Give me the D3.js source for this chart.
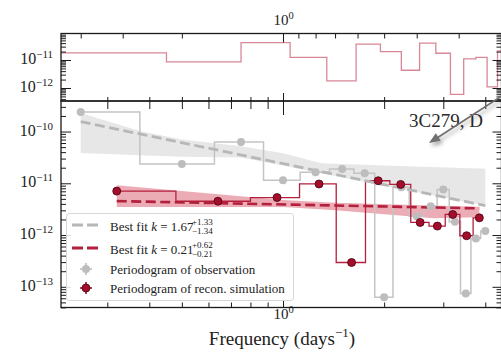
<!DOCTYPE html>
<html>
<head>
<meta charset="utf-8">
<script src="https://cdn.jsdelivr.net/npm/d3@7"></script>
<style>
  html, body { margin: 0; padding: 0; background: #fff; }
  svg { display: block; font-family: "Liberation Serif", "Times New Roman", serif; }
</style>
</head>
<body>
<svg id="chart" width="501" height="353"></svg>
<script>
// ---- periodogram of the observed light curve (days^-1, power) ----
const obsFreq  = [0.25, 0.5, 0.75, 1.0, 1.25, 1.5, 1.75, 2.0, 2.25, 2.5, 2.75, 3.0, 3.25, 3.5, 3.75, 4.0];
const obsPower = [2.38e-10, 2.35e-11, 6.27e-11, 1.15e-11, 1.63e-11, 1.88e-11, 1.57e-11, 6.3e-14,
                  8.4e-12, 2.32e-12, 3.62e-12, 7.6e-12, 1.8e-12, 7.4e-14, 8.6e-13, 1.2e-12];

// ---- periodogram of the reconstructed simulation ----
const simFreq  = [0.32, 0.64, 0.96, 1.28, 1.6, 1.92, 2.24, 2.56, 2.88, 3.2, 3.52, 3.84];
const simPower = [7.06e-12, 4.5e-12, 5.3e-12, 9.7e-12, 2.95e-13, 1.12e-11, 9.5e-12, 1.75e-12,
                  1.49e-12, 2.5e-12, 9.7e-13, 2.15e-12];

// ---- upper panel: residual periodogram ----
const topFreq  = [0.3, 0.6, 0.9, 1.2, 1.5, 1.8, 2.1, 2.4, 2.7, 3.0, 3.3, 3.6, 3.9, 4.2, 4.5];
const topPower = [1.8e-11, 8.5e-12, 4.2e-11, 1.25e-11, 1.8e-12, 3.7e-11, 2.0e-11, 4.3e-12,
                  4.0e-11, 1.74e-11, 5.9e-13, 1.1e-11, 1.25e-11, 1.1e-12, 2.1e-11];

// ---- best-fit power laws and their uncertainty bands ----
const obsFitFreq  = [0.25, 4.0];
const obsFitPower = [1.55e-10, 3.7e-12];
const obsBandFreq = [0.25, 0.375, 0.5, 0.75, 1.0, 1.3, 2.0, 4.0];
const obsBandHigh = [2.28e-10, 1.02e-10, 7.0e-11, 5.2e-11, 3.8e-11, 2.45e-11, 2.2e-11, 1.92e-11];
const obsBandLow  = [3.84e-11, 3.5e-11, 3.25e-11, 3.15e-11, 2.2e-11, 1.57e-11, 9.0e-12, 3.7e-12];

const simFitFreq  = [0.32, 3.84];
const simFitPower = [4.53e-12, 3.27e-12];
const simBandFreq = [0.32, 1.0, 1.43, 2.8, 3.84];
const simBandHigh = [9.2e-12, 4.73e-12, 4.2e-12, 3.74e-12, 3.54e-12];
const simBandLow  = [3.47e-12, 3.47e-12, 3.03e-12, 2.12e-12, 2.2e-12];

// ---- axes ----
const xMajorTicks  = [1];
const xMinorTicks  = [0.3, 0.4, 0.5, 0.6, 0.7, 0.8, 0.9, 2, 3, 4];
const periodMajor  = [1];
const periodMinor  = [4, 3, 2, 0.9, 0.8, 0.7, 0.6, 0.5, 0.4, 0.3];
const legendLabels = [
  { k: "1.67", up: "+1.33", dn: "\u22121.34" },
  { k: "0.21", up: "+0.62", dn: "\u22120.21" }
];
const sourceName = "3C279, D";

// ---- layout ----
const plotLeft = 61, plotRight = 501.5;
const topTop = 33.5, topBottom = 101;
const mainTop = 101, mainBottom = 307.5;

const grayStep = "#c4c4c4", grayDot = "#bdbdbd", grayDash = "#b7b7b7", grayBand = "#e4e4e4";
const redStep = "#b41f3c", redDot = "#a30f2b", redEdge = "#4a0010", redBand = "#c8102e", topLine = "#d98796";

const svg = d3.select("#chart");

const x = d3.scaleLog().domain([0.2184, 4.470]).range([plotLeft, plotRight]);
const yTop = d3.scaleLog().domain([Math.pow(10, -12.464), Math.pow(10, -10.054)]).range([topBottom, topTop]);
const yMain = d3.scaleLog().domain([Math.pow(10, -13.40), Math.pow(10, -9.41)]).range([mainBottom, mainTop]);

const defs = svg.append("defs");
defs.append("clipPath").attr("id", "clipTop").append("rect")
  .attr("x", plotLeft).attr("y", topTop).attr("width", plotRight - plotLeft).attr("height", topBottom - topTop);
defs.append("clipPath").attr("id", "clipMain").append("rect")
  .attr("x", plotLeft).attr("y", mainTop).attr("width", plotRight - plotLeft).attr("height", mainBottom - mainTop);
const shadow = defs.append("filter").attr("id", "shadow").attr("x", "-50%").attr("y", "-50%").attr("width", "200%").attr("height", "200%");
shadow.append("feDropShadow").attr("dx", 2).attr("dy", 3).attr("stdDeviation", 2)
  .attr("flood-color", "#000").attr("flood-opacity", 0.35);

// mid-step outline: each value spans half way to its neighbours (in linear frequency)
function midSteps(freqs, vals, padEnds) {
  const pts = [];
  const n = freqs.length;
  for (let i = 0; i < n; i++) {
    const left = i === 0 ? (padEnds ? freqs[0] - (freqs[1] - freqs[0]) / 2 : freqs[0]) : (freqs[i - 1] + freqs[i]) / 2;
    const right = i === n - 1 ? (padEnds ? freqs[i] + (freqs[i] - freqs[i - 1]) / 2 : freqs[i]) : (freqs[i] + freqs[i + 1]) / 2;
    pts.push([left, vals[i]], [right, vals[i]]);
  }
  return pts;
}

// ================= upper panel =================
const gTop = svg.append("g").attr("clip-path", "url(#clipTop)");
gTop.append("path")
  .attr("d", d3.line().x(d => x(Math.max(d[0], 0.1))).y(d => yTop(d[1]))(midSteps(topFreq, topPower, true)))
  .attr("fill", "none").attr("stroke", topLine).attr("stroke-width", 1.3);

// ================= main panel =================
const gMain = svg.append("g").attr("clip-path", "url(#clipMain)");
const bandArea = (scale) => d3.area().x(d => x(d.f)).y0(d => scale(d.lo)).y1(d => scale(d.hi));

gMain.append("path")
  .attr("d", bandArea(yMain)(obsBandFreq.map((f, i) => ({ f, lo: obsBandLow[i], hi: obsBandHigh[i] }))))
  .attr("fill", grayBand).attr("opacity", 0.9);
gMain.append("path")
  .attr("d", bandArea(yMain)(simBandFreq.map((f, i) => ({ f, lo: simBandLow[i], hi: simBandHigh[i] }))))
  .attr("fill", redBand).attr("opacity", 0.35);

const stepLine = d3.line().x(d => x(d[0])).y(d => yMain(d[1]));
gMain.append("path").attr("d", stepLine(midSteps(obsFreq, obsPower, false)))
  .attr("fill", "none").attr("stroke", grayStep).attr("stroke-width", 1.5);
gMain.append("path").attr("d", stepLine(midSteps(simFreq, simPower, false)))
  .attr("fill", "none").attr("stroke", redStep).attr("stroke-width", 1.3);

const fitLine = d3.line().x(d => x(d[0])).y(d => yMain(d[1]));
gMain.append("path").attr("d", fitLine(obsFitFreq.map((f, i) => [f, obsFitPower[i]])))
  .attr("fill", "none").attr("stroke", grayDash).attr("stroke-width", 2.8).attr("stroke-dasharray", "10,4.5");
gMain.append("path").attr("d", fitLine(simFitFreq.map((f, i) => [f, simFitPower[i]])))
  .attr("fill", "none").attr("stroke", redStep).attr("stroke-width", 2.6).attr("stroke-dasharray", "10,4.5");

gMain.selectAll("circle.obs").data(obsFreq.map((f, i) => [f, obsPower[i]])).join("circle")
  .attr("class", "obs").attr("cx", d => x(d[0])).attr("cy", d => yMain(d[1])).attr("r", 4)
  .attr("fill", grayDot);
gMain.selectAll("circle.sim").data(simFreq.map((f, i) => [f, simPower[i]])).join("circle")
  .attr("class", "sim").attr("cx", d => x(d[0])).attr("cy", d => yMain(d[1])).attr("r", 4)
  .attr("fill", redDot).attr("stroke", redEdge).attr("stroke-width", 0.8);

// ================= axes =================
const tickColor = "#1a1a1a";
function styleAxis(g) {
  g.select(".domain").remove();
  g.selectAll(".tick line").attr("stroke", tickColor).attr("stroke-width", 1);
}
function powerLabel(textSel, exp, big, small) {
  textSel.text(null);
  textSel.append("tspan").attr("font-size", big).text("10");
  textSel.append("tspan").attr("font-size", small).attr("dy", "-0.55em").text(exp);
}

// bottom frequency axis
svg.append("g").attr("transform", `translate(0,${mainBottom})`)
  .call(d3.axisBottom(x).tickValues(xMinorTicks).tickSize(-5).tickFormat("")).call(styleAxis);
const xb = svg.append("g").attr("transform", `translate(0,${mainBottom})`)
  .call(d3.axisBottom(x).tickValues(xMajorTicks).tickSize(-8).tickPadding(4).tickFormat("")).call(styleAxis);
xb.selectAll(".tick text").attr("fill", "#222").attr("font-family", "Liberation Serif")
  .each(function () { powerLabel(d3.select(this), "0", 15, 10.5); });

// shared boundary: ticks up into upper panel and down into main panel
svg.append("g").attr("transform", `translate(0,${topBottom})`)
  .call(d3.axisBottom(x).tickValues(xMinorTicks).tickSize(-4).tickFormat("")).call(styleAxis);
svg.append("g").attr("transform", `translate(0,${topBottom})`)
  .call(d3.axisBottom(x).tickValues(xMajorTicks).tickSize(-8).tickFormat("")).call(styleAxis);
svg.append("g").attr("transform", `translate(0,${mainTop})`)
  .call(d3.axisTop(x).tickValues(xMinorTicks).tickSize(-8).tickFormat("")).call(styleAxis);
svg.append("g").attr("transform", `translate(0,${mainTop})`)
  .call(d3.axisTop(x).tickValues(xMajorTicks).tickSize(-14).tickFormat("")).call(styleAxis);

// period axis on top of the upper panel
svg.append("g").attr("transform", `translate(0,${topTop})`)
  .call(d3.axisTop(x).tickValues(periodMinor.map(p => 1 / p)).tickSize(-5).tickFormat("")).call(styleAxis);
const xt = svg.append("g").attr("transform", `translate(0,${topTop})`)
  .call(d3.axisTop(x).tickValues(periodMajor.map(p => 1 / p)).tickSize(-9).tickPadding(9).tickFormat("")).call(styleAxis);
xt.selectAll(".tick text").attr("fill", "#222").attr("font-family", "Liberation Serif")
  .each(function () { powerLabel(d3.select(this), "0", 15, 10.5); });

// log y axes (left labelled, right unlabelled)
function yAxes(scale, labelled) {
  const all = scale.ticks();
  const majors = all.filter(v => Math.abs(Math.log10(v) - Math.round(Math.log10(v))) < 1e-6);
  const minors = all.filter(v => majors.indexOf(v) < 0);
  svg.append("g").attr("transform", `translate(${plotLeft},0)`)
    .call(d3.axisLeft(scale).tickValues(minors).tickSize(-5).tickFormat("")).call(styleAxis);
  const gl = svg.append("g").attr("transform", `translate(${plotLeft},0)`)
    .call(d3.axisLeft(scale).tickValues(majors).tickSize(-10).tickPadding(8).tickFormat("")).call(styleAxis);
  gl.selectAll(".tick text").attr("fill", "#222").attr("font-family", "Liberation Serif").attr("dy", "0.36em")
    .each(function (d) { powerLabel(d3.select(this), "\u2212" + Math.abs(Math.round(Math.log10(d))), 16, 11); });
  svg.append("g").attr("transform", `translate(${plotRight},0)`)
    .call(d3.axisRight(scale).tickValues(minors).tickSize(-5).tickFormat("")).call(styleAxis);
  svg.append("g").attr("transform", `translate(${plotRight},0)`)
    .call(d3.axisRight(scale).tickValues(majors).tickSize(-9).tickFormat("")).call(styleAxis);
}
yAxes(yTop);
yAxes(yMain);

// frames
const frame = svg.append("g").attr("fill", "none").attr("stroke", tickColor).attr("stroke-width", 1.3);
frame.append("rect").attr("x", plotLeft).attr("y", topTop).attr("width", plotRight - plotLeft).attr("height", topBottom - topTop);
frame.append("rect").attr("x", plotLeft).attr("y", mainTop).attr("width", plotRight - plotLeft).attr("height", mainBottom - mainTop);

// ================= legend =================
const lg = svg.append("g");
lg.append("rect").attr("x", 66.5).attr("y", 213.5).attr("width", 227).attr("height", 87).attr("rx", 3)
  .attr("fill", "#fff").attr("fill-opacity", 0.85).attr("stroke", "#d6d6d6").attr("stroke-width", 1);
const rowY = [225, 248, 269, 288];
[grayDash, redStep].forEach((c, i) => {
  lg.append("line").attr("x1", 72).attr("x2", 98).attr("y1", rowY[i]).attr("y2", rowY[i])
    .attr("stroke", c).attr("stroke-width", 2.8).attr("stroke-dasharray", "11,4");
  const t = lg.append("text").attr("x", 110).attr("y", rowY[i] + 5.5).attr("font-size", 13).attr("fill", "#222");
  t.append("tspan").text("Best fit ");
  t.append("tspan").attr("font-style", "italic").text("k");
  t.append("tspan").text(" = " + legendLabels[i].k);
  const tx = 110 + 81;
  lg.append("text").attr("x", tx + 1).attr("y", rowY[i] - 0.5).attr("font-size", 9).attr("fill", "#222").text(legendLabels[i].up);
  lg.append("text").attr("x", tx + 1).attr("y", rowY[i] + 9).attr("font-size", 9).attr("fill", "#222").text(legendLabels[i].dn);
});
[[grayDot, "none", "Periodogram of observation"], [redDot, redEdge, "Periodogram of recon. simulation"]].forEach((m, j) => {
  const cy = rowY[2 + j];
  lg.append("line").attr("x1", 86).attr("x2", 86).attr("y1", cy - 6).attr("y2", cy + 6).attr("stroke", m[0] === grayDot ? grayDot : redDot).attr("stroke-width", 1.6);
  lg.append("line").attr("x1", 80).attr("x2", 92).attr("y1", cy).attr("y2", cy).attr("stroke", m[0] === grayDot ? grayDot : redDot).attr("stroke-width", 1.6);
  lg.append("circle").attr("cx", 86).attr("cy", cy).attr("r", 4).attr("fill", m[0])
    .attr("stroke", m[1]).attr("stroke-width", 0.8);
  lg.append("text").attr("x", 110).attr("y", cy + 5).attr("font-size", 13).attr("fill", "#222").text(m[2]);
});

// ================= annotation =================
svg.append("text").attr("x", 409).attr("y", 127).attr("font-size", 19).attr("fill", "#2b2b2b").text(sourceName);
const ag = svg.append("g").attr("filter", "url(#shadow)");
ag.append("line").attr("x1", 520).attr("y1", 84.3).attr("x2", 437).attr("y2", 138)
  .attr("stroke", "#6f6f6f").attr("stroke-width", 1.7);
ag.append("path").attr("d", "M429,143 L440.7,140.8 L435.8,133.3 Z").attr("fill", "#6f6f6f");

// ================= axis title =================
const xl = svg.append("text").attr("x", 282).attr("y", 345).attr("text-anchor", "middle")
  .attr("font-size", 19).attr("fill", "#222");
xl.append("tspan").text("Frequency (days");
xl.append("tspan").attr("font-size", 13).attr("dy", "-0.6em").text("\u22121");
xl.append("tspan").attr("dy", "0.4em").text(")");
</script>
</body>
</html>
